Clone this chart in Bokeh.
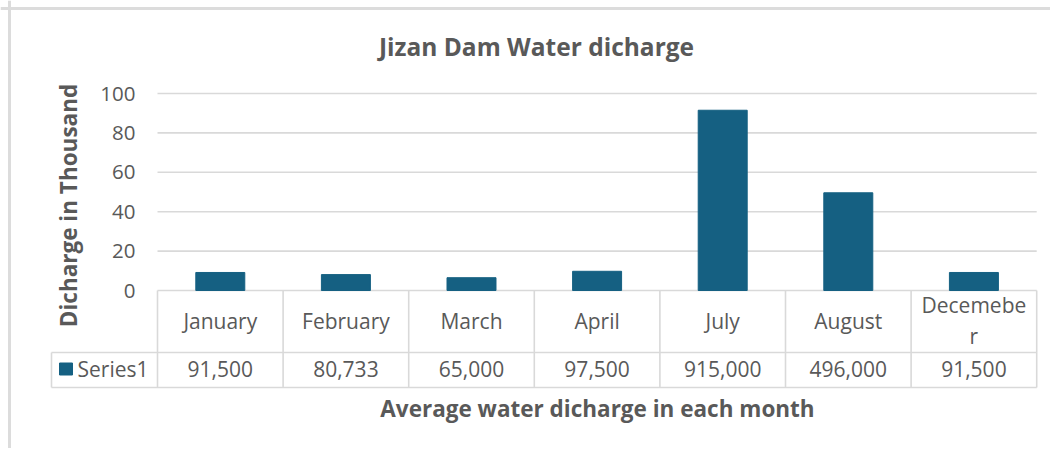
from bokeh.plotting import figure
from bokeh.models import Range1d, Span
from bokeh.embed import file_html
from bokeh.resources import INLINE
from bokeh.core.properties import value

# ---------------- data ----------------
title_text = "Jizan Dam Water dicharge"
y_title = "Dicharge in Thousand"
x_title = "Average water dicharge in each month"
months = ["January", "February", "March", "April", "July", "August", "Decemebe\nr"]
discharge = [91500, 80733, 65000, 97500, 915000, 496000, 91500]
value_labels = ["91,500", "80,733", "65,000", "97,500", "915,000", "496,000", "91,500"]
series_name = "Series1"
y_ticks = [0, 20, 40, 60, 80, 100]
y_tick_labels = ["0", "20", "40", "60", "80", "100"]
unit = 10000  # axis shows the series in units of 10,000

# ---------------- layout helpers (canvas px -> data) ----------------
W, H = 1050, 448
CW = 125.6          # px per category
PU = 1.97           # px per axis unit
X0 = 219.8          # canvas x of first category centre
Y0 = 290.0          # canvas y of value 0

def dx(cx):
    return (cx - X0) / CW

def dy(cy):
    return (Y0 - cy) / PU

GRAY_TXT = "#595959"
GRID = "#d9d9d9"
BAR = "#156082"
FONT = value("Open Sans")

p = figure(width=W, height=H, output_backend="svg", toolbar_location=None,
           x_range=Range1d(dx(0), dx(W)), y_range=Range1d(dy(H), dy(0)),
           min_border=0, tools="")
p.axis.visible = False
p.grid.visible = False
p.outline_line_color = None
p.background_fill_color = "white"

n = len(months)
xs = list(range(n))
heights = [v / unit for v in discharge]

# chart border (top and left visible)
p.add_layout(Span(location=dy(8), dimension="width", line_color="#dcdcdc", line_width=3))
p.add_layout(Span(location=dx(9), dimension="height", line_color="#dcdcdc", line_width=3))

# gridlines
p.segment(x0=[-0.5] * len(y_ticks), x1=[n - 0.5] * len(y_ticks), y0=y_ticks, y1=y_ticks,
          line_color=GRID, line_width=1.6)

# y tick labels
p.text(x=[dx(135)] * len(y_ticks), y=y_ticks, text=y_tick_labels,
       text_align="right", text_baseline="middle", text_font=FONT,
       text_font_size="20.5px", text_color=GRAY_TXT)

# bars
p.vbar(x=xs, top=heights, bottom=0, width=0.39, fill_color=BAR, line_color=BAR)

# data table
row_mid = dy(352)
row_bot = dy(387)
left_cell = dx(51)
p.segment(x0=[k - 0.5 for k in range(n + 1)], x1=[k - 0.5 for k in range(n + 1)],
          y0=[row_bot] * (n + 1), y1=[0] * (n + 1), line_color=GRID, line_width=1.6)
p.segment(x0=[left_cell, left_cell, left_cell], x1=[n - 0.5, n - 0.5, left_cell],
          y0=[row_mid, row_bot, row_bot], y1=[row_mid, row_bot, row_mid],
          line_color=GRID, line_width=1.6)

p.text(x=xs, y=[dy(320)] * n, text=months, text_align="center", text_baseline="middle",
       text_font=FONT, text_font_size="21px", text_color=GRAY_TXT, text_line_height=1.1)
p.text(x=xs, y=[dy(368)] * n, text=value_labels, text_align="center", text_baseline="middle",
       text_font=FONT, text_font_size="21px", text_color=GRAY_TXT)

# legend key in table
p.rect(x=[dx(65.5)], y=[dy(368.5)], width=13 / CW, height=12 / PU,
       fill_color=BAR, line_color=BAR)
p.text(x=[dx(77)], y=[dy(368)], text=[series_name], text_align="left", text_baseline="middle",
       text_font=FONT, text_font_size="21px", text_color=GRAY_TXT)

# titles
p.text(x=[dx(536)], y=[dy(46)], text=[title_text], text_align="center", text_baseline="middle",
       text_font=FONT, text_font_size="24.5px", text_font_style="bold", text_color=GRAY_TXT)
p.text(x=[dx(597)], y=[dy(408)], text=[x_title], text_align="center", text_baseline="middle",
       text_font=FONT, text_font_size="22.5px", text_font_style="bold", text_color=GRAY_TXT)
p.text(x=[dx(68)], y=[dy(205)], text=[y_title], angle=1.5707963, text_align="center",
       text_baseline="middle", text_font=FONT, text_font_size="22.5px", text_font_style="bold",
       text_color=GRAY_TXT)

open("out.html", "w").write(file_html(p, INLINE))
